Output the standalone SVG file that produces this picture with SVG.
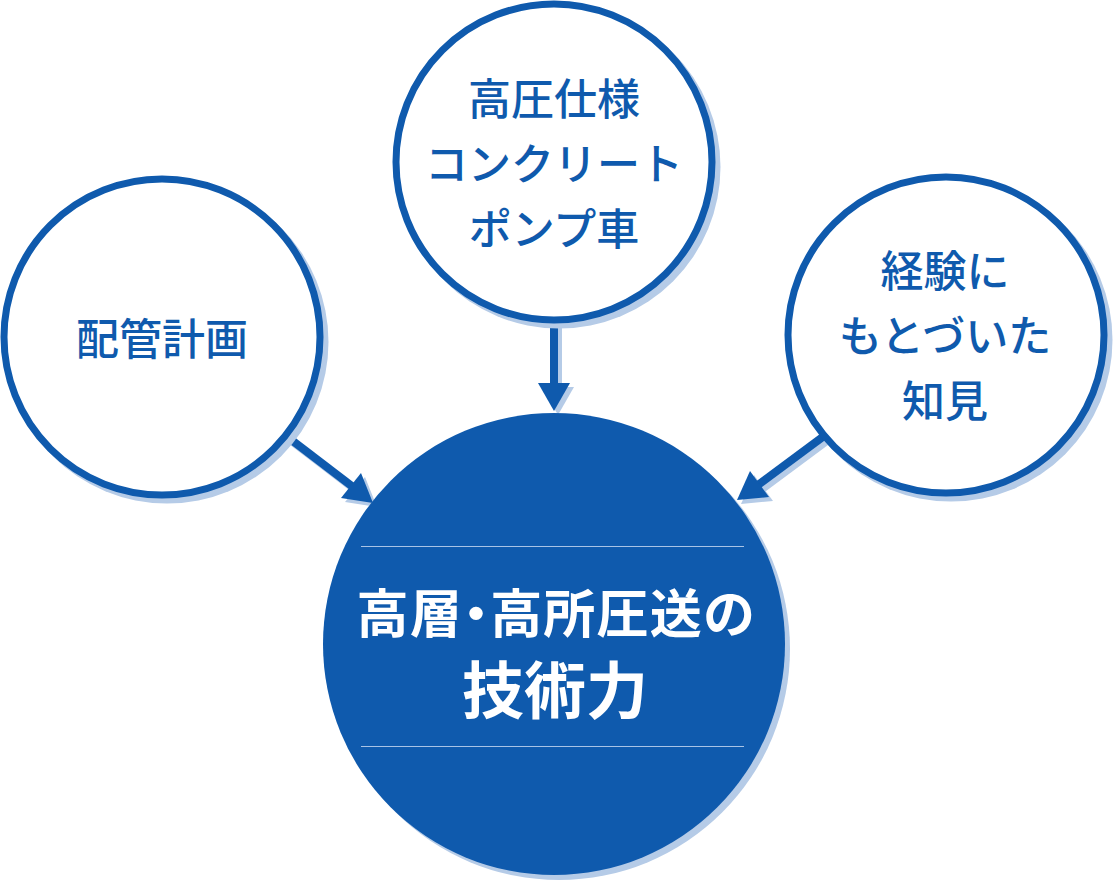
<svg xmlns="http://www.w3.org/2000/svg" width="1113" height="881" viewBox="0 0 1113 881">
  <defs>
    <style>
      .shadow { fill: #b5cbe7; }
      .ring { fill: #ffffff; stroke: #0f5aad; stroke-width: 7; }
      .lbl { font-family: "Noto Sans CJK JP", "Noto Sans", sans-serif; font-size: 43px; font-weight: 500; fill: #0f5aad; text-anchor: middle; }
      .main { font-family: "Noto Sans CJK JP", "Noto Sans", sans-serif; font-weight: 700; fill: #ffffff; }
      .palt { font-feature-settings: "palt"; letter-spacing: 1.2px; }
      .ln { stroke: #0f5aad; stroke-width: 8; fill: none; }
      .lns { stroke: #b5cbe7; stroke-width: 8; fill: none; }
      .hd { fill: #0f5aad; }
      .hds { fill: #b5cbe7; }
      .rule { stroke: #a8c3e6; stroke-width: 1; }
    </style>
  </defs>
  <rect width="1113" height="881" fill="#ffffff"/>

  <g id="connectors">
    <g transform="translate(4,4)">
      <line class="lns" x1="554" y1="322" x2="554" y2="386"/>
      <polygon class="hds" points="538,383 570,383 554,411"/>
      <line class="lns" x1="285" y1="435" x2="353" y2="487"/>
      <polygon class="hds" points="373,503 341,498 361,473"/>
      <line class="lns" x1="824" y1="436" x2="758" y2="485"/>
      <polygon class="hds" points="737,500 769,497 750,471"/>
    </g>
    <line class="ln" x1="554" y1="322" x2="554" y2="386"/>
    <polygon class="hd" points="538,383 570,383 554,411"/>
    <line class="ln" x1="285" y1="435" x2="353" y2="487"/>
    <polygon class="hd" points="373,503 341,498 361,473"/>
    <line class="ln" x1="824" y1="436" x2="758" y2="485"/>
    <polygon class="hd" points="737,500 769,497 750,471"/>
  </g>

  <g id="node-piping">
    <circle class="shadow" cx="167" cy="342" r="161.5"/>
    <circle class="ring" cx="162" cy="337" r="158"/>
    <text class="lbl" x="162" y="355">配管計画</text>
  </g>

  <g id="node-pump">
    <circle class="shadow" cx="559" cy="167" r="161.5"/>
    <circle class="ring" cx="554" cy="162" r="158"/>
    <text class="lbl" x="554" y="115">高圧仕様</text>
    <text class="lbl" x="554" y="180">コンクリート</text>
    <text class="lbl" x="554" y="245">ポンプ車</text>
  </g>

  <g id="node-knowledge">
    <circle class="shadow" cx="951" cy="340" r="161.5"/>
    <circle class="ring" cx="946" cy="335" r="158"/>
    <text class="lbl" x="945" y="287">経験に</text>
    <text class="lbl" x="945" y="352">もとづいた</text>
    <text class="lbl" x="945" y="417">知見</text>
  </g>

  <g id="node-center">
    <circle class="shadow" cx="559" cy="649" r="231"/>
    <circle cx="554" cy="644" r="231" fill="#0f5aad"/>
    <line class="rule" x1="361" y1="546.5" x2="744" y2="546.5"/>
    <line class="rule" x1="361" y1="746.5" x2="744" y2="746.5"/>
    <text class="main palt" font-size="52" x="556" y="633" text-anchor="middle">高層・高所圧送の</text>
    <text class="main" font-size="62" x="555" y="714" text-anchor="middle">技術力</text>
  </g>
</svg>
